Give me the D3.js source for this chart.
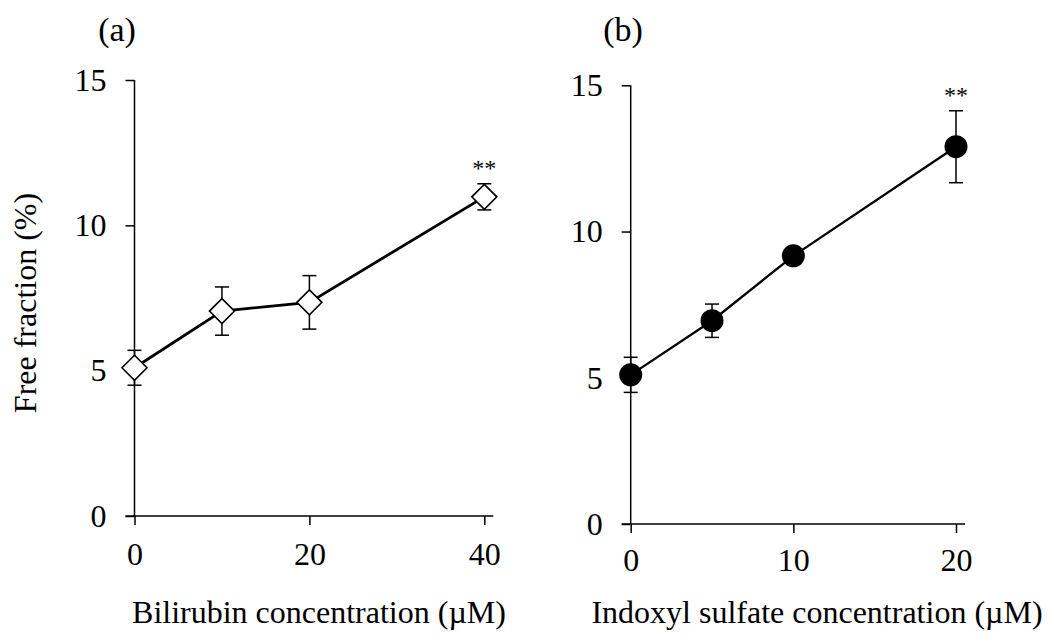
<!DOCTYPE html>
<html>
<head>
<meta charset="utf-8">
<script src="https://cdn.jsdelivr.net/npm/d3@7"></script>
<style>
  body { margin: 0; background: #fff; }
  svg text { font-family: "Liberation Serif", "Times New Roman", serif; fill: #000; }
</style>
</head>
<body>
<svg id="chart" width="1048" height="636"></svg>
<script>
// ---- Data
const bilirubinConc = [0, 10, 20, 40];
const bilirubinFree = [5.10, 7.05, 7.35, 10.98];
const bilirubinErr  = [0.60, 0.83, 0.92, 0.45];

const indoxylConc = [0, 5, 10, 20];
const indoxylFree = [5.10, 6.95, 9.17, 12.90];
const indoxylErr  = [0.60, 0.57, 0.15, 1.23];

const yTicks  = [0, 5, 10, 15];
const xTicksA = [0, 20, 40];
const xTicksB = [0, 10, 20];

const svg = d3.select('#chart');

function drawPanel(opts) {
    const { xs, ys, errs, xDomain, xTicks, left, right, top, bottom,
            letter, letterX, xLabel, xLabelX, xPad, marker, starIndex } = opts;

    const mapX = d3.scaleLinear().domain(xDomain).range([left, right]);
    const mapY = d3.scaleLinear().domain([0, 15]).range([bottom, top]);

    // ---- Eixos
    const xAxis = svg.append('g')
        .attr('transform', `translate(0, ${bottom})`)
        .call(d3.axisBottom(mapX).tickValues(xTicks).tickSize(9).tickSizeOuter(0).tickPadding(xPad));
    // axis line runs from the left tick of y=0 to a bit past the last tick
    xAxis.select('.domain')
        .attr('d', `M${left - 9},0H${mapX(xTicks[xTicks.length - 1]) + 9}`);

    const yAxis = svg.append('g')
        .attr('transform', `translate(${left}, 0)`)
        .call(d3.axisLeft(mapY).tickValues(yTicks).tickSize(9).tickSizeOuter(0).tickPadding(19));
    yAxis.select('.domain').attr('d', `M0,${mapY(15)}V${bottom}`);

    svg.selectAll('.tick text').style('font-size', '32px').style('font-family', '"Liberation Serif", serif');
    svg.selectAll('.tick line, .domain').attr('stroke', '#000').attr('stroke-width', 1.5);

    const pts = xs.map((x, i) => ({ x, y: ys[i], e: errs[i] }));

    // Error bars
    const eb = svg.append('g').attr('stroke', '#000').attr('stroke-width', 1.5);
    pts.forEach(d => {
        const cx = mapX(d.x);
        eb.append('line').attr('x1', cx).attr('x2', cx)
            .attr('y1', mapY(d.y + d.e)).attr('y2', mapY(d.y - d.e));
        [d.y + d.e, d.y - d.e].forEach(v => {
            eb.append('line').attr('x1', cx - 7).attr('x2', cx + 7)
                .attr('y1', mapY(v)).attr('y2', mapY(v));
        });
    });

    // Line
    const line = d3.line().x(d => mapX(d.x)).y(d => mapY(d.y));
    svg.append('path')
        .datum(pts)
        .attr('fill', 'none')
        .attr('stroke', '#000')
        .attr('stroke-width', marker === 'diamond' ? 2.8 : 2.3)
        .attr('d', line);

    // Markers
    if (marker === 'diamond') {
        svg.append('g').selectAll('path')
            .data(pts).enter().append('path')
            .attr('d', d => {
                const cx = mapX(d.x), cy = mapY(d.y), r = 12.5;
                return `M${cx},${cy - r}L${cx + r},${cy}L${cx},${cy + r}L${cx - r},${cy}Z`;
            })
            .attr('fill', '#fff')
            .attr('stroke', '#000')
            .attr('stroke-width', 1.6);
    } else {
        svg.append('g').selectAll('circle')
            .data(pts).enter().append('circle')
            .attr('cx', d => mapX(d.x))
            .attr('cy', d => mapY(d.y))
            .attr('r', 11.5)
            .attr('fill', '#000');
    }

    // Significance mark
    const s = pts[starIndex];
    svg.append('text')
        .attr('x', mapX(s.x))
        .attr('y', mapY(s.y + s.e) - 8)
        .attr('text-anchor', 'middle')
        .style('font-size', '24px')
        .text('**');

    // Panel letter
    svg.append('text')
        .attr('x', letterX)
        .attr('y', 41)
        .attr('text-anchor', 'middle')
        .style('font-size', '34px')
        .text(letter);

    // X label
    svg.append('text')
        .attr('x', xLabelX)
        .attr('y', 623)
        .attr('text-anchor', 'middle')
        .style('font-size', '32px')
        .text(xLabel);
}

drawPanel({
    xs: bilirubinConc, ys: bilirubinFree, errs: bilirubinErr,
    xDomain: [0, 40], xTicks: xTicksA,
    left: 134.5, right: 484.3, top: 80, bottom: 516,
    letter: '(a)', letterX: 117, xLabel: 'Bilirubin concentration (\u00b5M)', xLabelX: 319, xPad: 17,
    marker: 'diamond', starIndex: 3
});

drawPanel({
    xs: indoxylConc, ys: indoxylFree, errs: indoxylErr,
    xDomain: [0, 20], xTicks: xTicksB,
    left: 630.7, right: 956, top: 85.3, bottom: 524,
    letter: '(b)', letterX: 623, xLabel: 'Indoxyl sulfate concentration (\u00b5M)', xLabelX: 817, xPad: 15,
    marker: 'circle', starIndex: 3
});

// Y axis label (shared, left panel)
svg.append('text')
    .attr('transform', 'translate(36, 303) rotate(-90)')
    .attr('text-anchor', 'middle')
    .style('font-size', '32px')
    .text('Free fraction (%)');
</script>
</body>
</html>
